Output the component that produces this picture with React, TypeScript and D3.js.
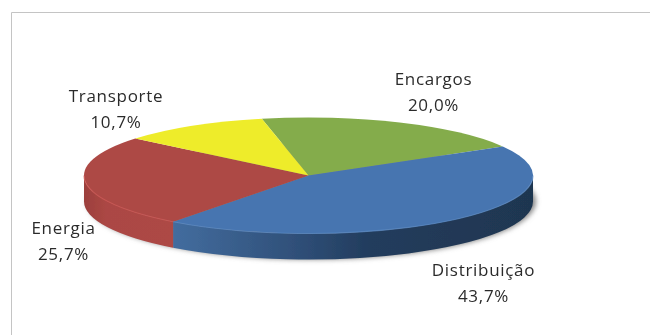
import React from "react";
import * as d3 from "d3";

const categories = ["Encargos", "Distribuição", "Energia", "Transporte"];
const values = [20.0, 43.7, 25.7, 10.7];
const labels = ["20,0%", "43,7%", "25,7%", "10,7%"];
const colors = ["#84ac4c", "#4675b0", "#ad4845", "#eeec2a"];

const W = 650, H = 335;
const cx = 308.5, cy = 175.5, rx = 224.5, ry = 58, depth = 26;
const labelPos: [number, number][] = [[433.5, 79], [483.5, 270], [63.5, 228], [116, 96]];

const pie = d3.pie<number>().sort(null).startAngle((-12 * Math.PI) / 180).endAngle((348 * Math.PI) / 180);
const arcs = pie(values);
const arcGen = d3.arc<d3.PieArcDatum<number>>().innerRadius(0).outerRadius(rx);

const px = (a: number) => cx + rx * Math.sin(a);
const py = (a: number) => cy - ry * Math.cos(a);

function wall(a0: number, a1: number) {
  const from = Math.max(a0, Math.PI / 2), to = Math.min(a1, (3 * Math.PI) / 2);
  if (to <= from) return null;
  return `M${px(from)},${py(from)}A${rx},${ry} 0 0 1 ${px(to)},${py(to)}L${px(to)},${py(to) + depth}A${rx},${ry} 0 0 0 ${px(from)},${py(from) + depth}Z`;
}

export default function App() {
  return (
    <svg width={W} height={H} style={{ position: "absolute", left: 0, top: 0, background: "#fff" }}>
      <defs>
        <filter id="soft" x="-5%" y="-5%" width="110%" height="110%"><feGaussianBlur stdDeviation="0.6" /></filter>
        <filter id="shadow" x="-10%" y="-30%" width="120%" height="160%"><feGaussianBlur stdDeviation="2.5" /></filter>
        <filter id="txt"><feGaussianBlur stdDeviation="0.4" /></filter>
        <linearGradient id="sideBlue" gradientUnits="userSpaceOnUse" x1={172} x2={533} y1={0} y2={0}>
          <stop offset="0" stopColor="#436d9f" />
          <stop offset="0.35" stopColor="#2f4f78" />
          <stop offset="0.55" stopColor="#223c5d" />
          <stop offset="1" stopColor="#1f3650" />
        </linearGradient>
        <linearGradient id="sideRed" gradientUnits="userSpaceOnUse" x1={84} x2={172} y1={0} y2={0}>
          <stop offset="0" stopColor="#9c403d" />
          <stop offset="0.25" stopColor="#ab4744" />
          <stop offset="1" stopColor="#ad4845" />
        </linearGradient>
      </defs>
      <path d={`M11.5,${H}V12.5H${W}`} fill="none" stroke="#c4c4c4" strokeWidth={1} />
      <ellipse cx={cx + 3} cy={cy + depth} rx={rx} ry={ry} fill="#8a8a8a" filter="url(#shadow)" />
      <g filter="url(#soft)">
        {arcs.map((a, i) => {
          const d = wall(a.startAngle, a.endAngle);
          return d ? <path key={i} d={d} fill={i === 1 ? "url(#sideBlue)" : i === 2 ? "url(#sideRed)" : colors[i]} /> : null;
        })}
        {arcs.map((a, i) => (
          <path key={i} d={arcGen(a) ?? ""} fill={colors[i]} transform={`translate(${cx},${cy}) scale(1,${ry / rx})`} />
        ))}
        {arcs.map((a, i) => {
          const from = Math.max(a.startAngle, Math.PI / 2), to = Math.min(a.endAngle, (3 * Math.PI) / 2);
          if (to <= from) return null;
          return <path key={i} d={`M${px(from)},${py(from)}A${rx},${ry} 0 0 1 ${px(to)},${py(to)}`} fill="none" strokeWidth={1.2}
            stroke={i === 1 ? "#5b8ac4" : "#d05a56"} opacity={0.7} />;
        })}
      </g>
      <g filter="url(#txt)" fontFamily="'Open Sans', sans-serif" fontSize={17} letterSpacing={0.7} fill="#2c2c2c" textAnchor="middle">
        {categories.map((c, i) => (
          <g key={c}>
            <text x={labelPos[i][0]} y={labelPos[i][1] + 6}>{c}</text>
            <text x={labelPos[i][0]} y={labelPos[i][1] + 32}>{labels[i]}</text>
          </g>
        ))}
      </g>
    </svg>
  );
}
